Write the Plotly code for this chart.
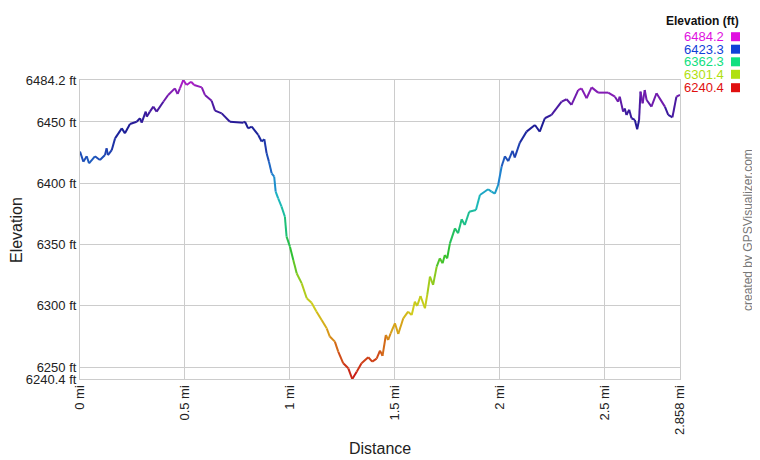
import plotly.graph_objects as go

# ---------------- data ----------------
distance_mi = [
    0.000, 0.016, 0.032, 0.043, 0.071, 0.095, 0.119, 0.127, 0.133, 0.151,
    0.167, 0.199, 0.214, 0.238, 0.270, 0.286, 0.294, 0.313, 0.318, 0.333,
    0.349, 0.365, 0.397, 0.420, 0.452, 0.465, 0.476, 0.492, 0.508, 0.529,
    0.544, 0.580, 0.595, 0.627, 0.643, 0.675, 0.714, 0.778, 0.786, 0.801,
    0.818, 0.849, 0.865, 0.878, 0.889, 0.900, 0.913, 0.925, 0.932, 0.944,
    0.960, 0.976, 0.984, 1.000, 1.016, 1.032, 1.056, 1.080, 1.103, 1.127,
    1.151, 1.175, 1.190, 1.214, 1.230, 1.254, 1.278, 1.297, 1.318, 1.341,
    1.373, 1.392, 1.413, 1.429, 1.441, 1.457, 1.468, 1.480, 1.500, 1.516,
    1.540, 1.563, 1.580, 1.595, 1.606, 1.622, 1.643, 1.654, 1.667, 1.682,
    1.699, 1.714, 1.727, 1.738, 1.749, 1.762, 1.786, 1.801, 1.818, 1.833,
    1.854, 1.886, 1.905, 1.944, 1.960, 1.976, 1.992, 2.008, 2.024, 2.040,
    2.060, 2.071, 2.095, 2.127, 2.167, 2.190, 2.214, 2.246, 2.294, 2.318,
    2.341, 2.373, 2.389, 2.413, 2.437, 2.468, 2.516, 2.548, 2.563, 2.571,
    2.587, 2.595, 2.603, 2.616, 2.627, 2.643, 2.654, 2.663, 2.670, 2.680,
    2.690, 2.699, 2.722, 2.746, 2.786, 2.802, 2.822, 2.841, 2.858,
]
elevation_ft = [
    6425.8, 6417.6, 6422.0, 6416.3, 6422.0, 6419.0, 6423.0, 6428.5, 6423.0, 6427.0,
    6436.6, 6444.8, 6440.7, 6448.3, 6450.2, 6453.0, 6449.5, 6458.4, 6454.3, 6458.4,
    6462.5, 6458.4, 6466.5, 6472.0, 6477.4, 6472.8, 6477.4, 6484.2, 6480.1, 6482.8,
    6480.1, 6478.2, 6472.0, 6467.3, 6459.2, 6457.0, 6450.2, 6449.4, 6450.2, 6444.8,
    6446.2, 6439.4, 6434.0, 6435.9, 6424.4, 6417.6, 6408.1, 6405.4, 6393.2, 6387.7,
    6380.9, 6372.7, 6356.5, 6348.3, 6337.4, 6326.6, 6318.4, 6306.2, 6302.6, 6295.3,
    6288.5, 6281.7, 6275.0, 6270.9, 6262.7, 6253.2, 6249.1, 6240.4, 6246.4, 6253.2,
    6258.1, 6254.6, 6257.0, 6263.5, 6259.2, 6276.3, 6272.2, 6277.7, 6285.8, 6277.1,
    6289.9, 6295.3, 6292.5, 6303.5, 6300.0, 6308.1, 6298.1, 6309.0, 6323.8, 6317.1,
    6332.0, 6338.8, 6334.7, 6341.5, 6338.8, 6351.0, 6363.2, 6359.2, 6370.6, 6366.0,
    6376.8, 6378.2, 6390.4, 6395.1, 6393.2, 6391.5, 6398.6, 6413.5, 6422.0, 6418.0,
    6426.5, 6421.0, 6433.1, 6442.1, 6447.5, 6442.1, 6453.0, 6455.7, 6466.5, 6468.5,
    6463.9, 6476.0, 6477.4, 6469.3, 6478.2, 6473.9, 6473.9, 6470.6, 6466.5, 6470.6,
    6458.4, 6461.0, 6455.7, 6460.0, 6453.0, 6451.6, 6444.0, 6451.6, 6474.7, 6465.2,
    6476.0, 6467.9, 6462.5, 6473.4, 6462.5, 6455.7, 6453.8, 6470.6, 6472.0,
]

y_tick_vals = [6240.4, 6250, 6300, 6350, 6400, 6450, 6484.2]
y_tick_text = ["6240.4 ft", "6250 ft", "6300 ft", "6350 ft", "6400 ft", "6450 ft", "6484.2 ft"]
x_tick_vals = [0, 0.5, 1, 1.5, 2, 2.5, 2.858]
x_tick_text = ["0 mi", "0.5 mi", "1 mi", "1.5 mi", "2 mi", "2.5 mi", "2.858 mi"]

legend_values = ["6484.2", "6423.3", "6362.3", "6301.4", "6240.4"]
legend_colors = ["#e010e0", "#1040d8", "#10e080", "#b0e010", "#e01010"]

# ---------------- styles ----------------
FONT = "Liberation Sans, Arial, sans-serif"
y_min, y_max = 6240.4, 6484.2
x_min, x_max = 0, 2.858

line_stops = [
    (0.00, "#c81414"), (0.08, "#d05018"), (0.16, "#d89a18"), (0.24, "#d0cc1c"),
    (0.33, "#98cc1c"), (0.42, "#30c030"), (0.52, "#1cc080"), (0.60, "#1cb8c0"),
    (0.68, "#1e7ed0"), (0.76, "#1e40b0"), (0.84, "#1c1c96"), (0.90, "#40189e"),
    (0.95, "#7a1cb0"), (1.00, "#b01cc8"),
]


def hex2rgb(h):
    h = h.lstrip("#")
    return tuple(int(h[i:i + 2], 16) for i in (0, 2, 4))


def color_at(t):
    t = max(0.0, min(1.0, t))
    for (t0, c0), (t1, c1) in zip(line_stops[:-1], line_stops[1:]):
        if t <= t1:
            f = 0 if t1 == t0 else (t - t0) / (t1 - t0)
            a, b = hex2rgb(c0), hex2rgb(c1)
            return "rgb(%d,%d,%d)" % tuple(round(a[k] + (b[k] - a[k]) * f) for k in range(3))
    return line_stops[-1][1]


N_BINS = 60
bins = {}
for i in range(len(distance_mi) - 1):
    mid = (elevation_ft[i] + elevation_ft[i + 1]) / 2
    t = (mid - y_min) / (y_max - y_min)
    b = min(N_BINS - 1, int(t * N_BINS))
    xs, ys = bins.setdefault(b, ([], []))
    xs += [distance_mi[i], distance_mi[i + 1], None]
    ys += [elevation_ft[i], elevation_ft[i + 1], None]

fig = go.Figure()
for b in sorted(bins):
    xs, ys = bins[b]
    fig.add_trace(go.Scatter(
        x=xs, y=ys, mode="lines",
        line=dict(color=color_at((b + 0.5) / N_BINS), width=2),
        hoverinfo="skip", showlegend=False,
    ))

# page body has an 8px margin; plot area should land at page x 80..680, y 80..379
OFF = 8
W, H = 760 - OFF, 460 - OFF
PL, PR, PT, PB = 80, 680, 80, 379
L, T = PL - OFF, PT - OFF
R, B = W - (PR - OFF), H - (PB - OFF)
pw, ph = PR - PL, PB - PT


def px(x):
    return (x - PL) / pw


def py(y):
    return (PB - y) / ph


annotations = [
    dict(text="Distance", x=px(380), y=py(448), xref="paper", yref="paper",
         showarrow=False, font=dict(family=FONT, size=16, color="#222"),
         xanchor="center", yanchor="middle"),
    dict(text="Elevation", x=px(16), y=py(230), xref="paper", yref="paper",
         showarrow=False, textangle=-90, font=dict(family=FONT, size=16, color="#222"),
         xanchor="center", yanchor="middle"),
    dict(text="created by GPSVisualizer.com", x=px(748), y=py(230), xref="paper", yref="paper",
         showarrow=False, textangle=-90, font=dict(family=FONT, size=12, color="#777"),
         xanchor="center", yanchor="middle"),
    dict(text="<b>Elevation (ft)</b>", x=px(741), y=py(21), xref="paper", yref="paper",
         showarrow=False, font=dict(family=FONT, size=12, color="#111"),
         xanchor="right", yanchor="middle"),
]
shapes = []
row_y = [36.7, 49.2, 61.8, 74.3, 87.7]
for val, col, yy in zip(legend_values, legend_colors, row_y):
    annotations.append(dict(text=val, x=px(726), y=py(yy), xref="paper", yref="paper",
                            showarrow=False, font=dict(family=FONT, size=13, color=col),
                            xanchor="right", yanchor="middle"))
    shapes.append(dict(type="rect", xref="paper", yref="paper",
                       x0=px(731), x1=px(740), y0=py(yy + 4.5), y1=py(yy - 4.5),
                       fillcolor=col, line=dict(width=0)))

fig.update_layout(
    width=W, height=H,
    margin=dict(l=L, r=R, t=T, b=B),
    paper_bgcolor="white", plot_bgcolor="white",
    font=dict(family=FONT, size=13, color="#222"),
    showlegend=False,
    annotations=annotations,
    shapes=shapes,
    xaxis=dict(range=[x_min, x_max], tickvals=x_tick_vals, ticktext=x_tick_text,
               tickangle=-90, showgrid=True, gridcolor="#cccccc", gridwidth=1,
               showline=True, linecolor="#cccccc", linewidth=1, mirror=True,
               zeroline=False, ticks="", tickfont=dict(family=FONT, size=13, color="#222")),
    yaxis=dict(range=[y_min, y_max], tickvals=y_tick_vals, ticktext=y_tick_text,
               showgrid=True, gridcolor="#cccccc", gridwidth=1,
               showline=True, linecolor="#cccccc", linewidth=1, mirror=True,
               zeroline=False, ticks="", tickfont=dict(family=FONT, size=13, color="#222")),
)

fig.write_html("out.html")
